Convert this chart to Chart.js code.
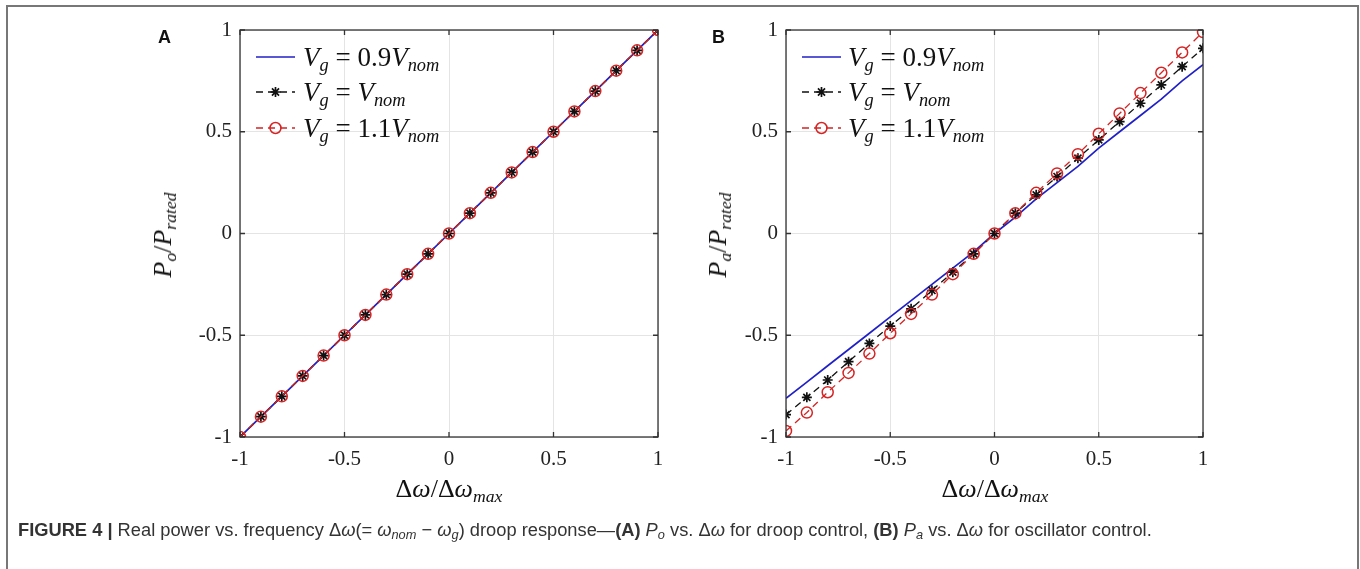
<!DOCTYPE html>
<html>
<head>
<meta charset="utf-8">
<script src="https://cdn.jsdelivr.net/npm/chart.js@4.4.1/dist/chart.umd.min.js"></script>
<style>
  body { margin: 0; background: #fff; width: 1360px; height: 569px; overflow: hidden; position: relative; }
  #frame { position: absolute; left: 6px; top: 5px; width: 1349px; height: 600px; border: 2px solid #777; border-bottom: none; }
  canvas { position: absolute; top: 0; }
  .panel { position: absolute; font: bold 18px "Liberation Sans", Arial, sans-serif; color: #111; }
  .math { position: absolute; font-family: "Liberation Serif", "DejaVu Serif", serif; color: #111; white-space: nowrap; line-height: 1; }
  .math i { font-style: italic; }
  .math sub { font-size: 68%; vertical-align: -0.3em; line-height: 0; }
  .leg { font-size: 27px; transform: translateY(-50%); }
  .ytitle { font-size: 26px; transform: translate(-50%, -50%) rotate(-90deg); }
  .xtitle { font-size: 26px; transform: translateX(-50%); }
  #caption { position: absolute; left: 18px; top: 519px; font: 18.3px "Liberation Sans", Arial, sans-serif; color: #333; white-space: nowrap; }
  #caption sub { font-size: 70%; vertical-align: -0.25em; line-height: 0; }
</style>
</head>
<body>
<div id="frame"></div>
<canvas id="chartA" width="700" height="520" style="left:0px"></canvas>
<canvas id="chartB" width="700" height="520" style="left:545px"></canvas>

<div class="panel" style="left:158px;top:27px">A</div>
<div class="panel" style="left:712px;top:27px">B</div>

<div class="math leg" style="left:303px;top:57px"><i>V<sub>g</sub></i> = 0.9<i>V<sub>nom</sub></i></div>
<div class="math leg" style="left:303px;top:92px"><i>V<sub>g</sub></i> = <i>V<sub>nom</sub></i></div>
<div class="math leg" style="left:303px;top:128px"><i>V<sub>g</sub></i> = 1.1<i>V<sub>nom</sub></i></div>
<div class="math leg" style="left:848px;top:57px"><i>V<sub>g</sub></i> = 0.9<i>V<sub>nom</sub></i></div>
<div class="math leg" style="left:848px;top:92px"><i>V<sub>g</sub></i> = <i>V<sub>nom</sub></i></div>
<div class="math leg" style="left:848px;top:128px"><i>V<sub>g</sub></i> = 1.1<i>V<sub>nom</sub></i></div>

<div class="math ytitle" style="left:163px;top:235px"><i>P<sub>o</sub></i>/<i>P<sub>rated</sub></i></div>
<div class="math ytitle" style="left:718px;top:235px"><i>P<sub>a</sub></i>/<i>P<sub>rated</sub></i></div>
<div class="math xtitle" style="left:449px;top:476px">Δ<i>ω</i>/Δ<i>ω<sub>max</sub></i></div>
<div class="math xtitle" style="left:995px;top:476px">Δ<i>ω</i>/Δ<i>ω<sub>max</sub></i></div>

<div id="caption"><b>FIGURE 4 |</b> Real power vs. frequency Δ<i>ω</i>(= <i>ω<sub>nom</sub></i> − <i>ω<sub>g</sub></i>) droop response—<b>(A)</b> <i>P<sub>o</sub></i> vs. Δ<i>ω</i> for droop control, <b>(B)</b> <i>P<sub>a</sub></i> vs. Δ<i>ω</i> for oscillator control.</div>

<script>
// normalized frequency deviation (x axis, both panels)
const freqDev = [-1, -0.9, -0.8, -0.7, -0.6, -0.5, -0.4, -0.3, -0.2, -0.1, 0, 0.1, 0.2, 0.3, 0.4, 0.5, 0.6, 0.7, 0.8, 0.9, 1];

// (A) droop control: P_o / P_rated
const droopLow  = [-1, -0.9, -0.8, -0.7, -0.6, -0.5, -0.4, -0.3, -0.2, -0.1, 0, 0.1, 0.2, 0.3, 0.4, 0.5, 0.6, 0.7, 0.8, 0.9, 1];
const droopNom  = [-1, -0.9, -0.8, -0.7, -0.6, -0.5, -0.4, -0.3, -0.2, -0.1, 0, 0.1, 0.2, 0.3, 0.4, 0.5, 0.6, 0.7, 0.8, 0.9, 1];
const droopHigh = [-1, -0.9, -0.8, -0.7, -0.6, -0.5, -0.4, -0.3, -0.2, -0.1, 0, 0.1, 0.2, 0.3, 0.4, 0.5, 0.6, 0.7, 0.8, 0.9, 1];

// (B) oscillator control: P_a / P_rated
const oscLow  = [-0.81, -0.73, -0.65, -0.57, -0.49, -0.41, -0.33, -0.25, -0.17, -0.09, 0, 0.08, 0.17, 0.25, 0.33, 0.42, 0.5, 0.58, 0.66, 0.75, 0.83];
const oscNom  = [-0.89, -0.805, -0.72, -0.63, -0.54, -0.455, -0.37, -0.28, -0.19, -0.1, 0, 0.1, 0.19, 0.28, 0.37, 0.46, 0.55, 0.64, 0.73, 0.82, 0.91];
const oscHigh = [-0.97, -0.88, -0.78, -0.685, -0.59, -0.49, -0.395, -0.3, -0.2, -0.1, 0, 0.1, 0.2, 0.295, 0.39, 0.49, 0.59, 0.69, 0.79, 0.89, 0.99];

const tickValues = [-1, -0.5, 0, 0.5, 1];
const tickLabels = ['-1', '-0.5', '0', '0.5', '1'];

const BLUE = '#2020c8';
const BLACK = '#111111';
const RED = '#d42424';
const AXIS = '#333333';

function pts(ys){ return freqDev.map((x, i) => ({ x: x, y: ys[i] })); }

function drawMarker(ctx, style, x, y, r){
  ctx.beginPath();
  if (style === 'circle') {
    ctx.arc(x, y, r, 0, Math.PI * 2);
  } else if (style === 'star') {
    for (let k = 0; k < 4; k++) {
      const a = k * Math.PI / 4;
      ctx.moveTo(x - r * Math.cos(a), y - r * Math.sin(a));
      ctx.lineTo(x + r * Math.cos(a), y + r * Math.sin(a));
    }
  }
  ctx.stroke();
}

// box around the axes, inward tick marks, legend samples
const axesBox = {
  id: 'axesBox',
  afterDraw(chart){
    const { ctx, chartArea: a, scales } = chart;
    ctx.save();
    ctx.strokeStyle = AXIS;
    ctx.lineWidth = 1.3;
    ctx.setLineDash([]);
    ctx.strokeRect(a.left, a.top, a.right - a.left, a.bottom - a.top);
    const tl = 5;
    tickValues.forEach(v => {
      const px = scales.x.getPixelForValue(v);
      const py = scales.y.getPixelForValue(v);
      ctx.beginPath();
      ctx.moveTo(px, a.bottom); ctx.lineTo(px, a.bottom - tl);
      ctx.moveTo(px, a.top); ctx.lineTo(px, a.top + tl);
      ctx.moveTo(a.left, py); ctx.lineTo(a.left + tl, py);
      ctx.moveTo(a.right, py); ctx.lineTo(a.right - tl, py);
      ctx.stroke();
    });

    const rows = [57, 92, 128];
    const x0 = a.left + 16, x1 = a.left + 55;
    chart.data.datasets.forEach((ds, i) => {
      const y = rows[i];
      ctx.strokeStyle = ds.borderColor;
      ctx.lineWidth = ds.borderWidth;
      ctx.setLineDash(ds.borderDash || []);
      ctx.beginPath(); ctx.moveTo(x0, y); ctx.lineTo(x1, y); ctx.stroke();
      ctx.setLineDash([]);
      if (ds.pointRadius > 0) {
        ctx.lineWidth = ds.pointBorderWidth;
        drawMarker(ctx, ds.pointStyle, (x0 + x1) / 2, y, ds.pointRadius);
      }
    });
    ctx.restore();
  }
};

function makeChart(id, low, nom, high, yAxisWidth){
  const ctx = document.getElementById(id);
  return new Chart(ctx, {
    type: 'scatter',
    data: {
      datasets: [
        { data: pts(low), showLine: true, borderColor: BLUE, borderWidth: 1.7, pointRadius: 0, order: 3 },
        { data: pts(nom), showLine: true, borderColor: BLACK, borderWidth: 1.3, borderDash: [7, 5],
          pointStyle: 'star', pointRadius: 5, pointBorderWidth: 1.7, pointBorderColor: BLACK, pointBackgroundColor: 'transparent', order: 2 },
        { data: pts(high), showLine: true, borderColor: RED, borderWidth: 1.3, borderDash: [7, 5],
          pointStyle: 'circle', pointRadius: 5.5, pointBorderWidth: 1.5, pointBorderColor: RED, pointBackgroundColor: 'transparent', order: 1 }
      ]
    },
    options: {
      responsive: false,
      animation: false,
      devicePixelRatio: 1,
      layout: { padding: { top: 30, right: 42, left: 0, bottom: 0 } },
      plugins: { legend: { display: false }, tooltip: { enabled: false } },
      scales: {
        x: {
          type: 'linear', min: -1, max: 1,
          afterBuildTicks: s => { s.ticks = tickValues.map(v => ({ value: v })); },
          afterFit: s => { s.height = 83; },
          ticks: { callback: v => tickLabels[tickValues.indexOf(v)], font: { family: 'Liberation Serif', size: 21 }, color: '#222', padding: 10, maxRotation: 0 },
          grid: { color: '#e4e4e4', drawTicks: false },
          border: { display: false }
        },
        y: {
          type: 'linear', min: -1, max: 1,
          afterBuildTicks: s => { s.ticks = tickValues.map(v => ({ value: v })); },
          afterFit: s => { s.width = yAxisWidth; },
          ticks: { callback: v => tickLabels[tickValues.indexOf(v)], font: { family: 'Liberation Serif', size: 21 }, color: '#222', padding: 8 },
          grid: { color: '#e4e4e4', drawTicks: false },
          border: { display: false }
        }
      }
    },
    plugins: [axesBox]
  });
}

makeChart('chartA', droopLow, droopNom, droopHigh, 240);
makeChart('chartB', oscLow, oscNom, oscHigh, 241);
</script>
</body>
</html>
